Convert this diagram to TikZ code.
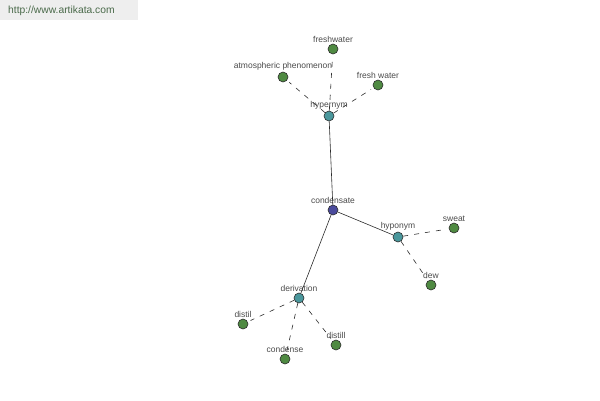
\documentclass[tikz,border=0pt]{standalone}
\usepackage{fontspec}
\setmainfont{Liberation Sans}
\usetikzlibrary{positioning}
\definecolor{ink}{HTML}{2B2B2B}
\definecolor{muted}{HTML}{4A4A4A}
\definecolor{hub}{HTML}{4A4A9C}
\definecolor{rel}{HTML}{4A979C}
\definecolor{leaf}{HTML}{4F8A42}
\definecolor{band}{HTML}{EEEEEE}
\definecolor{site}{HTML}{4A6A4A}
\tikzset{
  term/.style={circle,draw=ink,line width=0.6pt,minimum size=10pt,inner sep=0pt,fill=#1},
  tag/.style={font=\fontsize{8.5}{9}\selectfont,text=muted,inner sep=1pt},
  link/.style={line width=0.6pt,draw=ink},
  syn/.style={link,dash pattern=on 5pt off 6pt,shorten >=3pt},
}
\begin{document}
\begin{tikzpicture}[x=1pt,y=-1pt]
    \useasboundingbox (0,0) rectangle (600,400);
    \fill[band] (0,0) rectangle (138,20);
    \node[anchor=west,font=\fontsize{10.3}{11}\selectfont,text=site,inner sep=0pt] (site) at (8,11) {http://www.artikata.com};
    % centre and relation nodes
    \node[term=hub,label={[tag]above:condensate}] (condensate) at (333,210) {};
    \node[term=rel,label={[tag]above:hypernym}] (hypernym) at (329,116) {};
    \node[term=rel,label={[tag]above:hyponym}] (hyponym) at (398,237) {};
    \node[term=rel,label={[tag]above:derivation}] (derivation) at (299,298) {};
    \foreach \r in {hypernym,hyponym,derivation}
      \draw[link] (condensate) -- (\r);
    % word nodes
    \foreach \n/\x/\y/\r/\t in {
      fw1/333/49/hypernym/freshwater,
      atm/283/77/hypernym/atmospheric phenomenon,
      fw2/378/85/hypernym/fresh water,
      sweat/454/228/hyponym/sweat,
      dew/431/285/hyponym/dew,
      distil/243/324/derivation/distil,
      condense/285/359/derivation/condense,
      distill/336/345/derivation/distill} {
      \node[term=leaf,label={[tag]above:\t}] (\n) at (\x,\y) {};
      \draw[syn] (\r) -- (\n);
    }
  \end{tikzpicture}
\end{document}
